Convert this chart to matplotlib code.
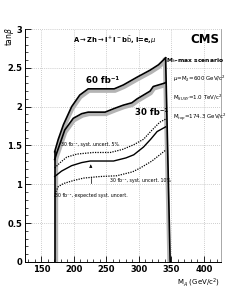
import matplotlib
matplotlib.use('Agg')
import matplotlib.pyplot as plt  # noqa: E402
from matplotlib.ticker import MultipleLocator  # noqa: E402

# ------------------------------------------------------------------
# Data (M_A in GeV/c^2, tan(beta))
# ------------------------------------------------------------------
ma_60 = [170.5, 176, 184, 196.5, 209, 222, 240, 262, 276, 297, 317, 330, 341]
tb_60 = [1.42, 1.58, 1.77, 2.00, 2.15, 2.23, 2.23, 2.23, 2.28, 2.38, 2.47, 2.54, 2.63]

ma_30 = [170.5, 173.5, 186, 199, 212, 222, 248, 263, 276, 289, 297, 317, 322, 338, 341]
tb_30 = [1.32, 1.40, 1.70, 1.85, 1.91, 1.93, 1.93, 1.98, 2.02, 2.05, 2.10, 2.20, 2.26, 2.30, 2.31]

ma_5pc = [170.5, 179, 189, 205, 230, 256, 275, 292, 307, 318, 332, 341]
tb_5pc = [1.21, 1.28, 1.35, 1.39, 1.41, 1.41, 1.45, 1.51, 1.58, 1.68, 1.80, 1.84]

ma_exp = [170.5, 181, 196.5, 212, 225, 261, 280, 292, 307, 318, 328, 341]
tb_exp = [1.10, 1.17, 1.24, 1.28, 1.30, 1.30, 1.34, 1.38, 1.48, 1.58, 1.68, 1.74]

ma_10pc = [170.5, 172, 176, 184, 200, 215, 240, 266, 290, 302, 320, 341]
tb_10pc = [0.84, 0.90, 0.97, 1.01, 1.05, 1.08, 1.10, 1.11, 1.16, 1.21, 1.30, 1.44]

# kinematic edges of the region
ma_left = [170.5, 170.5]
tb_left = [0.0, 1.42]
ma_right = [341, 348]
tb_right = [2.63, 0.0]

fig = plt.figure(figsize=(2.46, 2.91), dpi=100)
ax = fig.add_axes([0.102, 0.100, 0.796, 0.800])

band = dict(color='#b4b4b4', linewidth=2.4, solid_capstyle='butt', zorder=2)
ax.plot([x + 1.5 for x in ma_60], [y - 0.03 for y in tb_60], **band)
ax.plot([x + 1.5 for x in ma_30], [y - 0.03 for y in tb_30], **band)
ax.plot([x + 1.8 for x in ma_left], tb_left, **band)
ax.plot([x - 1.8 for x in ma_right], tb_right, **band)

ax.plot(ma_60, tb_60, color='black', linewidth=1.2, zorder=3)
ax.plot(ma_30, tb_30, color='black', linewidth=1.2, zorder=3)
ax.plot(ma_left, tb_left, color='black', linewidth=1.2, zorder=3)
ax.plot(ma_right, tb_right, color='black', linewidth=1.2, zorder=3)
ax.plot(ma_exp, tb_exp, color='black', linewidth=1.0, zorder=3)
ax.plot(ma_5pc, tb_5pc, color='black', linewidth=0.9, linestyle=(0, (1, 1)), zorder=3)
ax.plot(ma_10pc, tb_10pc, color='black', linewidth=0.9, linestyle=(0, (1, 1)), zorder=3)

# small syst. markers
ax.annotate('', xy=(226, 1.29), xytext=(226, 1.21),
            arrowprops=dict(arrowstyle='-|>', color='black', lw=0.5,
                            mutation_scale=4))
ax.plot([226, 226], [1.08, 1.02], color='black', linewidth=0.5)

ax.set_xlim(125, 426)
ax.set_ylim(0, 3)
ax.xaxis.set_minor_locator(MultipleLocator(10))
ax.yaxis.set_minor_locator(MultipleLocator(0.1))
ax.set_xticks([150, 200, 250, 300, 350, 400])
ax.set_yticks([0, 0.5, 1, 1.5, 2, 2.5, 3])
ax.set_yticklabels(['0', '0.5', '1', '1.5', '2', '2.5', '3'])
ax.tick_params(which='both', direction='in', top=False, right=False,
               labelsize=6, pad=2)
ax.tick_params(which='major', length=4, width=0.6)
ax.tick_params(which='minor', length=2, width=0.5)
for lab in ax.get_xticklabels() + ax.get_yticklabels():
    lab.set_fontweight('bold')

ax.grid(True, which='major', color='#bdbdbd', linestyle=(0, (1, 1.5)), linewidth=0.6)
ax.spines['top'].set_visible(False)
ax.spines['right'].set_color('#9a9a9a')
ax.spines['right'].set_linewidth(0.6)
ax.spines['left'].set_linewidth(0.7)
ax.spines['bottom'].set_linewidth(0.7)

# labels
fig.text(0.04, 0.875, r'tan$\beta$', rotation=90, fontsize=5.5, ha='center', va='center')
ax.text(424, -0.27, r'M$_A$ (GeV/c$^2$)', fontsize=5, ha='right', va='center')

ax.text(262, 2.86, r'A$\rightarrow$Zh$\rightarrow$l$^+$l$^-$b$\bar{\rm b}$, l=e,$\mu$',
        fontsize=4.9, ha='center', va='center', fontweight='bold')
ax.text(424, 2.86, 'CMS', fontsize=8.5, ha='right', va='center', fontweight='bold')
ax.text(341, 2.59, r'M$_h$-max scenario', fontsize=4.3, ha='left', va='center',
        fontweight='bold')
ax.text(352, 2.36, r'$\mu$=M$_2$=600 GeV/c$^2$', fontsize=4.0, ha='left', va='center')
ax.text(352, 2.11, r'M$_{SUSY}$=1.0 TeV/c$^2$', fontsize=4.0, ha='left', va='center')
ax.text(352, 1.87, r'M$_{top}$=174.3 GeV/c$^2$', fontsize=4.0, ha='left', va='center')

ax.text(244, 2.34, '60 fb\u207b\u00b9', fontsize=6.2, ha='center', va='center', fontweight='bold')
ax.text(320, 1.92, '30 fb\u207b\u00b9', fontsize=6.2, ha='center', va='center', fontweight='bold')
ax.text(225, 1.51, '30 fb\u207b\u00b9, syst. uncert. 5%', fontsize=3.4, ha='center', va='center')
ax.text(303, 1.05, '30 fb\u207b\u00b9, syst. uncert. 10%', fontsize=3.4, ha='center', va='center')
ax.text(227, 0.85, '30 fb\u207b\u00b9, expected syst. uncert.', fontsize=3.4, ha='center', va='center')

fig.savefig('out.png', dpi=100)
